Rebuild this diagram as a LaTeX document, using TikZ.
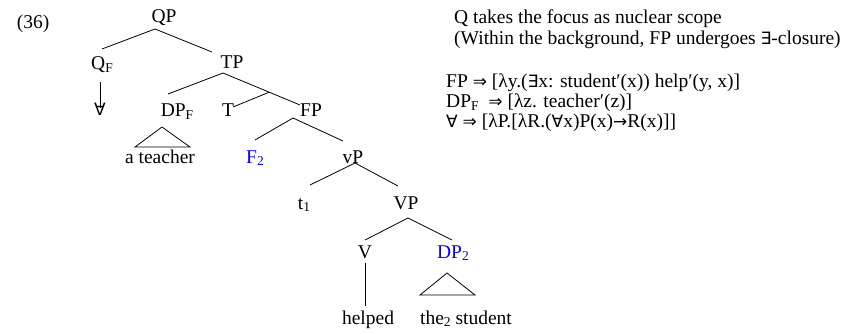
\documentclass[tikz,border=0pt]{standalone}
\usepackage{fontspec}
\setmainfont{Liberation Serif}
\newfontfamily\symf{DejaVu Sans}
\usetikzlibrary{calc}
\newcommand\sbs[1]{\raisebox{-2.5pt}{\fontsize{13.5}{13.5}\selectfont #1}}
\newcommand\symb[1]{{\symf\fontsize{17}{17}\selectfont #1}}
\begin{document}
\begin{tikzpicture}[x=1pt,y=-1pt,
  tn/.style={anchor=base, inner sep=0pt, font=\fontsize{19.5}{23}\selectfont},
  rt/.style={anchor=base west, inner sep=0pt, font=\fontsize{19.5}{23}\selectfont},
  br/.style={line width=0.8pt},
  tri/.style={line width=0.8pt},
  foc/.style={text=blue}]
\useasboundingbox (0,0) rectangle (845,334);
% tree nodes
\node[tn] (n36) at (33,29) {(36)};
\node[tn] (QP) at (164,23) {QP};
\node[tn] (QF) at (102,70) {Q\sbs{F}};
\node[tn] (all) at (100,115) {\symb{∀}};
\node[tn] (TP) at (232,69) {TP};
\node[tn] (DPF) at (177,117) {DP\sbs{F}};
\node[tn] (T) at (228,117) {T};
\node[tn] (FP) at (311,117) {FP};
\node[tn] (teach) at (160,163) {a teacher};
\node[tn,foc] (F2) at (255,163) {F\sbs{2}};
\node[tn] (vP) at (353,163) {vP};
\node[tn] (t1) at (304,209) {t\sbs{1}};
\node[tn] (VP) at (406,209) {VP};
\node[tn] (V) at (365,258) {V};
\node[tn,foc] (DP2) at (453,258) {DP\sbs{2}};
\node[tn] (helped) at (368,324) {helped};
\node[tn] (stud) at (466,324) {the\sbs{2} student};
% branches
\draw[br] ([shift={(-9,6)}]QP.base) -- ([shift={(0,-21)}]QF.base);
\draw[br] ([shift={(-9,6)}]QP.base) -- ([shift={(-20,-17)}]TP.base);
\draw[br] ([shift={(-2,12)}]QF.base) -- ([shift={(0,-7)}]all.base);
\draw[br] ([shift={(-9,4)}]TP.base) -- ([shift={(-9,-23)}]DPF.base);
\draw[br] ([shift={(-9,4)}]TP.base) -- ([shift={(-11,-12)}]FP.base)
  coordinate[pos=0.6] (Tj);
\draw[br] ([shift={(5,-10)}]T.base) -- (Tj);
\draw[tri] ([shift={(-15,10)}]DPF.base) -- ([shift={(-25,-16)}]teach.base)
  -- ([shift={(30,-16)}]teach.base) -- cycle;
\draw[br] ([shift={(-18,1)}]FP.base) -- ([shift={(0,-23)}]F2.base);
\draw[br] ([shift={(-18,1)}]FP.base) -- ([shift={(-10,-22)}]vP.base);
\draw[br] ([shift={(2,0)}]vP.base) -- ([shift={(6,-24)}]t1.base);
\draw[br] ([shift={(2,0)}]vP.base) -- ([shift={(-8,-23)}]VP.base);
\draw[br] ([shift={(2,9)}]VP.base) -- ([shift={(0,-18)}]V.base);
\draw[br] ([shift={(2,9)}]VP.base) -- ([shift={(-1,-18)}]DP2.base);
\draw[br] ([shift={(0,5)}]V.base) -- ([shift={(-3,-18)}]helped.base);
\draw[tri] ([shift={(-6,15)}]DP2.base) -- ([shift={(-46,-29)}]stud.base)
  -- ([shift={(9,-29)}]stud.base) -- cycle;
% right-hand text
\node[rt] (r1) at (454,24) {Q takes the focus as nuclear scope};
\node[rt] (r2) at (454,45) {(Within the background, FP undergoes \symb{∃}-closure)};
\node[rt] (r3) at (446,88) {FP \symb{⇒} [λy.(\symb{∃}x: student′(x)) help′(y, x)]};
\node[rt] (r4) at (446,108) {DP\sbs{F} \ \symb{⇒} [λz. teacher′(z)]};
\node[rt] (r5) at (446,128) {\symb{∀} \symb{⇒} [λP.[λR.(\symb{∀}x)P(x)\symb{→}R(x)]]};
\end{tikzpicture}
\end{document}
